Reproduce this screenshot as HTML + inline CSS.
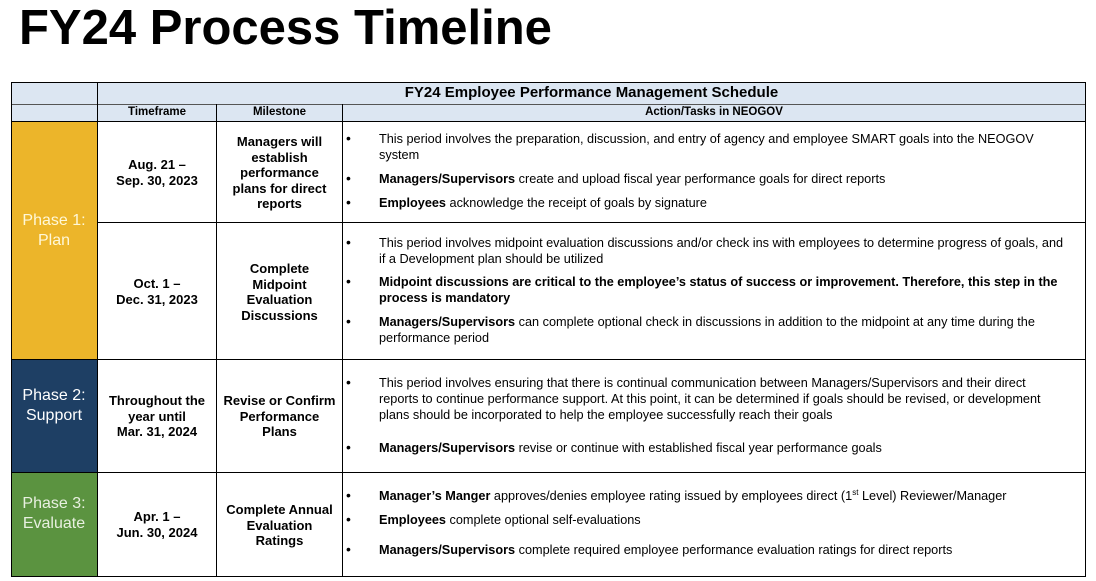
<!DOCTYPE html>
<html><head><meta charset="utf-8"><style>
body{margin:0;width:1096px;height:581px;background:#fff;position:relative;overflow:hidden;font-family:"Liberation Sans",sans-serif;color:#000}
.a{position:absolute}
.t{position:absolute;white-space:nowrap;font-size:12.7px;line-height:16px}
.c{position:absolute;text-align:center;font-weight:bold;font-size:13px;line-height:15.5px;white-space:nowrap}
.b{position:absolute;left:346px;font-size:14px;line-height:16px;margin-top:-2px}
.hl{position:absolute;background:#000}
.ph{position:absolute;color:#fff;text-align:center;font-size:16px;line-height:20px;left:11px;width:86px}
</style></head><body>
<div class="a" style="left:19px;top:0px;font-size:49px;font-weight:bold;line-height:56px">FY24 Process Timeline</div>

<div class="a" style="left:11px;top:82px;width:1074px;height:39px;background:#dce6f2"></div>
<div class="a" style="left:11px;top:121px;width:86px;height:101px;background:#ecb52a"></div>
<div class="a" style="left:11px;top:222px;width:86px;height:137px;background:#ecb52a"></div>
<div class="a" style="left:11px;top:359px;width:86px;height:113px;background:#1e3f64"></div>
<div class="a" style="left:11px;top:472px;width:86px;height:104px;background:#5b9340"></div>

<div class="hl" style="left:11px;top:82px;width:1075px;height:1px"></div>
<div class="hl" style="left:11px;top:104px;width:1075px;height:1px;background:#555"></div>
<div class="hl" style="left:11px;top:121px;width:1075px;height:1px"></div>
<div class="hl" style="left:97px;top:222px;width:989px;height:1px"></div>
<div class="hl" style="left:11px;top:359px;width:1075px;height:1px"></div>
<div class="hl" style="left:11px;top:472px;width:1075px;height:1px"></div>
<div class="hl" style="left:11px;top:576px;width:1075px;height:1px"></div>
<div class="hl" style="left:11px;top:82px;width:1px;height:495px"></div>
<div class="hl" style="left:97px;top:82px;width:1px;height:495px"></div>
<div class="hl" style="left:216px;top:104px;width:1px;height:473px"></div>
<div class="hl" style="left:342px;top:104px;width:1px;height:473px"></div>
<div class="hl" style="left:1085px;top:82px;width:1px;height:495px"></div>

<div class="c" style="left:98px;width:987px;top:84px;font-size:15px;line-height:18px">FY24 Employee Performance Management Schedule</div>
<div class="c" style="left:98px;width:118px;top:105px;font-size:11.5px">Timeframe</div>
<div class="c" style="left:217px;width:125px;top:105px;font-size:11.5px">Milestone</div>
<div class="c" style="left:343px;width:742px;top:105px;font-size:11.5px">Action/Tasks in NEOGOV</div>

<div class="ph" style="top:211px;color:#fff8d8">Phase 1:<br>Plan</div>
<div class="ph" style="top:386px">Phase 2:<br>Support</div>
<div class="ph" style="top:494px;color:#e8f0e0">Phase 3:<br>Evaluate</div>

<div class="c" style="left:98px;width:118px;top:157px">Aug. 21 –<br>Sep. 30, 2023</div>
<div class="c" style="left:217px;width:125px;top:134px">Managers will<br>establish<br>performance<br>plans for direct<br>reports</div>
<div class="c" style="left:98px;width:118px;top:276px">Oct. 1 –<br>Dec. 31, 2023</div>
<div class="c" style="left:217px;width:125px;top:261px">Complete<br>Midpoint<br>Evaluation<br>Discussions</div>
<div class="c" style="left:98px;width:118px;top:393px">Throughout the<br>year until<br>Mar. 31, 2024</div>
<div class="c" style="left:217px;width:125px;top:393px">Revise or Confirm<br>Performance<br>Plans</div>
<div class="c" style="left:98px;width:118px;top:509px">Apr. 1 –<br>Jun. 30, 2024</div>
<div class="c" style="left:217px;width:125px;top:502px">Complete Annual<br>Evaluation<br>Ratings</div>

<div class="b" style="top:132px">•</div>
<div class="t" style="left:379px;top:131px">This period involves the preparation, discussion, and entry of agency and employee SMART goals into the NEOGOV<br>system</div>
<div class="b" style="top:172px">•</div>
<div class="t" style="left:379px;top:171px"><b>Managers/Supervisors</b> create and upload fiscal year performance goals for direct reports</div>
<div class="b" style="top:196px">•</div>
<div class="t" style="left:379px;top:195px"><b>Employees</b> acknowledge the receipt of goals by signature</div>

<div class="b" style="top:236px">•</div>
<div class="t" style="left:379px;top:235px">This period involves midpoint evaluation discussions and/or check ins with employees to determine progress of goals, and<br>if a Development plan should be utilized</div>
<div class="b" style="top:275px">•</div>
<div class="t" style="left:379px;top:274px;font-weight:bold">Midpoint discussions are critical to the employee’s status of success or improvement. Therefore, this step in the<br>process is mandatory</div>
<div class="b" style="top:315px">•</div>
<div class="t" style="left:379px;top:314px"><b>Managers/Supervisors</b> can complete optional check in discussions in addition to the midpoint at any time during the<br>performance period</div>

<div class="b" style="top:376px">•</div>
<div class="t" style="left:379px;top:375px">This period involves ensuring that there is continual communication between Managers/Supervisors and their direct<br>reports to continue performance support. At this point, it can be determined if goals should be revised, or development<br>plans should be incorporated to help the employee successfully reach their goals</div>
<div class="b" style="top:441px">•</div>
<div class="t" style="left:379px;top:440px"><b>Managers/Supervisors</b> revise or continue with established fiscal year performance goals</div>

<div class="b" style="top:489px">•</div>
<div class="t" style="left:379px;top:488px"><b>Manager’s Manger</b> approves/denies employee rating issued by employees direct (1<sup style="font-size:8px;line-height:0">st</sup> Level) Reviewer/Manager</div>
<div class="b" style="top:513px">•</div>
<div class="t" style="left:379px;top:512px"><b>Employees</b> complete optional self-evaluations</div>
<div class="b" style="top:543px">•</div>
<div class="t" style="left:379px;top:542px"><b>Managers/Supervisors</b> complete required employee performance evaluation ratings for direct reports</div>
</body></html>
